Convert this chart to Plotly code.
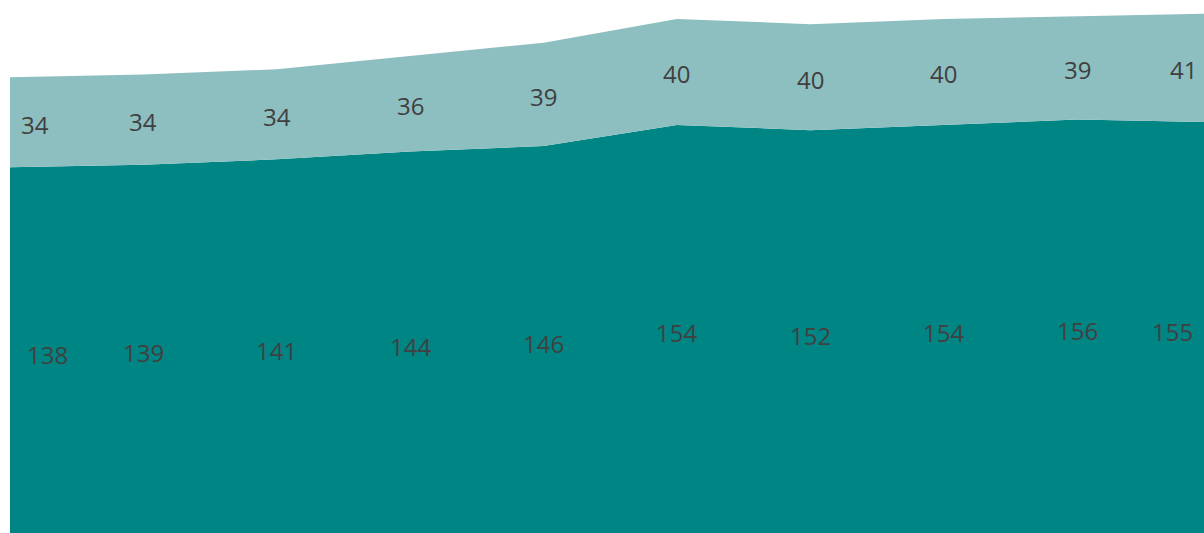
import plotly.graph_objects as go

categories = ["1", "2", "3", "4", "5", "6", "7", "8", "9", "10"]
base_values = [138, 139, 141, 144, 146, 154, 152, 154, 156, 155]
top_values = [34, 34, 34, 36, 39, 40, 40, 40, 39, 41]

dark = "#008585"
light = "#8DBFC1"
label_color = "#404040"

x = list(range(len(categories)))

fig = go.Figure()
fig.add_trace(go.Scatter(x=x, y=base_values, stackgroup="s", mode="lines",
                         line=dict(width=0, color=dark), fillcolor=dark,
                         hoverinfo="skip", showlegend=False))
fig.add_trace(go.Scatter(x=x, y=top_values, stackgroup="s", mode="lines",
                         line=dict(width=0, color=light), fillcolor=light,
                         hoverinfo="skip", showlegend=False))

n = len(categories)
x_max = 8.951
font = dict(family="Open Sans", size=24, color=label_color)
for i in range(n):
    b = base_values[i]
    t = top_values[i]
    for val, ymid, shift_l, shift_r, ys in [(b, b / 2, 15, -9, -4), (t, b + t / 2, 9, -5, -2)]:
        if i == 0:
            xa, xpos, xs = "left", x[i], shift_l
        elif i == n - 1:
            xa, xpos, xs = "right", x_max, shift_r
        else:
            xa, xpos, xs = "center", x[i], 0
        fig.add_annotation(x=xpos, y=ymid, text=str(val), showarrow=False,
                           xanchor=xa, yanchor="middle", xshift=xs, yshift=ys,
                           font=font)

fig.update_layout(
    width=1204, height=533,
    margin=dict(l=10, r=0, t=3, b=0),
    paper_bgcolor="white", plot_bgcolor="white",
    xaxis=dict(range=[0, x_max], visible=False, fixedrange=True),
    yaxis=dict(range=[0, 200], visible=False, fixedrange=True),
)

fig.write_html("out.html", config={"displayModeBar": False},
               post_script="document.body.style.margin='0';document.documentElement.style.overflow='hidden';")
